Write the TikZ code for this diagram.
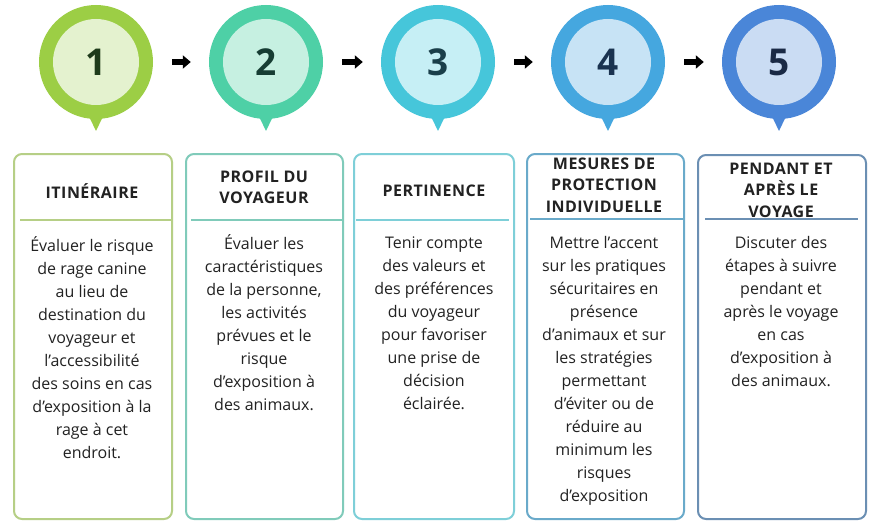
\documentclass[tikz,border=0pt]{standalone}
\usepackage{fontspec}
\setmainfont{Open Sans}
\newfontfamily\ttlfont[LetterSpace=3]{Open Sans}
\usetikzlibrary{arrows.meta,calc}
\definecolor{oA}{HTML}{9CCE45}\definecolor{iA}{HTML}{E4F2CF}\definecolor{dA}{HTML}{1E3B1A}\definecolor{bA}{HTML}{B6CF86}
\definecolor{oB}{HTML}{4ED0A6}\definecolor{iB}{HTML}{C6F0E1}\definecolor{dB}{HTML}{163D33}\definecolor{bB}{HTML}{80CBBA}
\definecolor{oC}{HTML}{46C6DA}\definecolor{iC}{HTML}{C6EFF5}\definecolor{dC}{HTML}{1A3F4A}\definecolor{bC}{HTML}{7ECFD8}
\definecolor{oD}{HTML}{45A7DF}\definecolor{iD}{HTML}{C7E3F5}\definecolor{dD}{HTML}{1A3350}\definecolor{bD}{HTML}{6AAACA}
\definecolor{oE}{HTML}{4A86D8}\definecolor{iE}{HTML}{CADCF3}\definecolor{dE}{HTML}{1A2A45}\definecolor{bE}{HTML}{6B8FB3}
\definecolor{txt}{HTML}{222222}
\begin{document}
\begin{tikzpicture}[x=1pt,y=-1pt,
  outer/.style={circle,minimum size=114pt,inner sep=0pt,fill=#1},
  inner/.style={circle,minimum size=86pt,inner sep=0pt,font=\bfseries\fontsize{37}{37}\selectfont},
  stepbox/.style={draw=#1,line width=2pt,rounded corners=8pt,anchor=north west,fill=white,inner sep=0pt},
  ttl/.style={font=\ttlfont\bfseries\fontsize{16}{21.5}\selectfont,align=center,text=txt,anchor=north,inner sep=0pt},
  body/.style={font=\fontsize{16}{23}\selectfont,align=center,text=txt,anchor=north,inner sep=0pt},
  arr/.style={line width=5.5pt,-{Triangle[length=8pt,width=13pt]},shorten <=19pt,shorten >=18pt},
  sepline/.style={draw=#1,line width=2pt}]
\useasboundingbox (0,0) rectangle (875,524);
\fill[white] (0,0) rectangle (875,524);
% circles
\foreach \n/\x/\c in {1/96/A,2/266/B,3/438/C,4/608/D,5/779/E}{
  \node[outer=o\c] (c\n) at (\x,62) {};
  \fill[o\c] (\x-12,106) -- (\x,131) -- (\x+12,106) -- cycle;
  \node[inner,fill=i\c,text=d\c] (n\n) at (\x,62) {\n};
}
% arrows
\draw[arr] (c1) -- (c2);
\draw[arr] (c2) -- (c3);
\draw[arr] (c3) -- (c4);
\draw[arr] (c4) -- (c5);
% boxes
\node[stepbox=bA,minimum width=158pt,minimum height=365pt] (b1) at (13,153) {};
\node[stepbox=bB,minimum width=157pt,minimum height=365pt] (b2) at (185,153) {};
\node[stepbox=bC,minimum width=160pt,minimum height=365pt] (b3) at (353,153) {};
\node[stepbox=bD,minimum width=157pt,minimum height=365pt] (b4) at (526,153) {};
\node[stepbox=bE,minimum width=168pt,minimum height=364pt] (b5) at (697,154) {};
% titles
\node[ttl] (t1) at (92,183) {\rule{0pt}{13pt}ITINÉRAIRE};
\node[ttl] (t2) at (264,169) {\rule{0pt}{13pt}PROFIL DU\\VOYAGEUR};
\node[ttl] (t3) at (434,183) {\rule{0pt}{13pt}PERTINENCE};
\node[ttl] (t4) at (604,156) {\rule{0pt}{13pt}MESURES DE\\PROTECTION\\INDIVIDUELLE};
\node[ttl] (t5) at (781,161) {\rule{0pt}{13pt}PENDANT ET\\APRÈS LE\\VOYAGE};
% separators
\draw[sepline=bA] ($(b1.north west)+(7,67)$) -- ($(b1.north east)+(-2,67)$);
\draw[sepline=bB] ($(b2.north west)+(6,67)$) -- ($(b2.north east)+(-2,67)$);
\draw[sepline=bC] ($(b3.north west)+(3,67)$) -- ($(b3.north east)+(-6,67)$);
\draw[sepline=bD] ($(b4.north west)+(4,66)$) -- ($(b4.north east)+(-2,66)$);
\draw[sepline=bE] ($(b5.north west)+(8,65)$) -- ($(b5.north east)+(-9,65)$);
% bodies
\node[body] (x1) at (92,236) {\rule{0pt}{14pt}Évaluer le risque\\de rage canine\\au lieu de\\destination du\\voyageur et\\l’accessibilité\\des soins en cas\\d’exposition à la\\rage à cet\\endroit.};
\node[body] (x2) at (264,234) {\rule{0pt}{14pt}Évaluer les\\caractéristiques\\de la personne,\\les activités\\prévues et le\\risque\\d’exposition à\\des animaux.};
\node[body] (x3) at (434,234) {\rule{0pt}{14pt}Tenir compte\\des valeurs et\\des préférences\\du voyageur\\pour favoriser\\une prise de\\décision\\éclairée.};
\node[body] (x4) at (604,234) {\rule{0pt}{14pt}Mettre l’accent\\sur les pratiques\\sécuritaires en\\présence\\d’animaux et sur\\les stratégies\\permettant\\d’éviter ou de\\réduire au\\minimum les\\risques\\d’exposition};
\node[body] (x5) at (781,234) {\rule{0pt}{14pt}Discuter des\\étapes à suivre\\pendant et\\après le voyage\\en cas\\d’exposition à\\des animaux.};
\end{tikzpicture}
\end{document}
